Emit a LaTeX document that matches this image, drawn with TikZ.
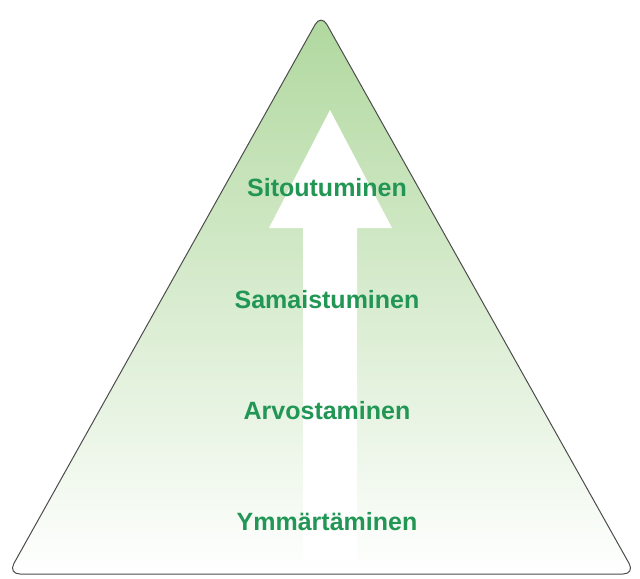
\documentclass[tikz,border=0pt]{standalone}
\usepackage{fontspec}
\setmainfont{Liberation Sans}
\usetikzlibrary{shapes}

\definecolor{pyrgreen}{RGB}{176,216,158}
\definecolor{labelgreen}{RGB}{34,150,84}

\tikzset{
  level/.style={font=\fontsize{12.5}{15}\selectfont\bfseries, text=labelgreen},
}

\begin{document}
\begin{tikzpicture}[x=0.5pt, y=-0.5pt]
\useasboundingbox (0,0) rectangle (640,578);

\shade[top color=pyrgreen, bottom color=white, rounded corners=6pt]
  (321,14) -- (635,574) -- (8,574) -- cycle;
\draw[black!70, line width=0.5pt, rounded corners=6pt]
  (321,14) -- (635,574) -- (8,574) -- cycle;

\fill[white] (330,110) -- (392,228) -- (357,228) -- (357,560)
  -- (303,560) -- (303,228) -- (269,228) -- cycle;

\node[level] (L4) at (327,188) {Sitoutuminen};
\node[level] (L3) at (327,300) {Samaistuminen};
\node[level] (L2) at (327,411) {Arvostaminen};
\node[level] (L1) at (327,522) {Ymmärtäminen};
\end{tikzpicture}
\end{document}
